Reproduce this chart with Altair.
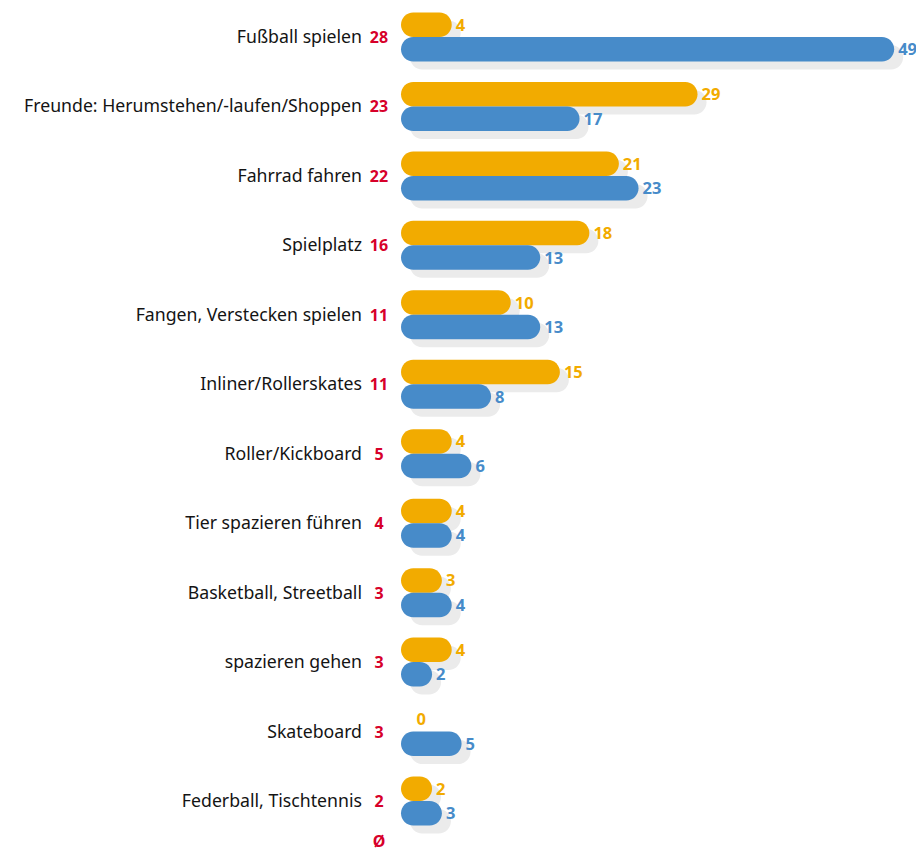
import altair as alt
import pandas as pd

categories = ["Fußball spielen", "Freunde: Herumstehen/-laufen/Shoppen", "Fahrrad fahren",
              "Spielplatz", "Fangen, Verstecken spielen", "Inliner/Rollerskates",
              "Roller/Kickboard", "Tier spazieren führen", "Basketball, Streetball",
              "spazieren gehen", "Skateboard", "Federball, Tischtennis"]
avg = [28, 23, 22, 16, 11, 11, 5, 4, 3, 3, 3, 2]
yellow = [4, 29, 21, 18, 10, 15, 4, 4, 3, 4, 0, 2]
blue = [49, 17, 23, 13, 13, 8, 6, 4, 4, 2, 5, 3]
avg_symbol = "Ø"

YELLOW = "#f2ab00"
BLUE = "#478bc9"
RED = "#d7002a"
SHADOW = "#ebebeb"
FONT = "Noto Sans"

# bars begin slightly left of zero (rounded cap)
BASE = -1.16
XMAX = 50.0
W = 503   # plot width in px

df = pd.DataFrame({"category": categories, "yellow": yellow, "blue": blue, "avg": avg})

xs = alt.Scale(domain=[BASE, XMAX], nice=False, zero=False)
ys = alt.Scale(type="point", padding=0.4176)

base = alt.Chart(df).encode(
    y=alt.Y("category:N", sort=categories, scale=ys, axis=None)
)

BH = 24.5
HALF = 12.25


def bars(field, color, yoff, shadow=False):
    kw = dict(height=BH, cornerRadius=HALF, yOffset=yoff)
    if shadow:
        kw.update(xOffset=9, x2Offset=9, yOffset=yoff + 8)
    return base.transform_filter(f"datum.{field} > 0").mark_bar(color=color, **kw).encode(
        x=alt.X(f"{field}:Q", scale=xs, axis=None),
        x2=alt.datum(BASE),
    )


def labels(field, color, yoff):
    return base.mark_text(align="left", baseline="middle", dx=4, dy=1, yOffset=yoff,
                          color=color, font=FONT, fontSize=16.5, fontWeight="bold").encode(
        x=alt.X(f"{field}:Q", scale=xs, axis=None),
        text=alt.Text(f"{field}:Q"),
    )


cat_text = base.mark_text(align="right", baseline="middle", font=FONT, fontSize=17.7,
                          dy=1, color="#141414").encode(x=alt.value(-39), text="category:N")
avg_text = base.mark_text(align="center", baseline="middle", font=FONT, fontSize=16,
                          dy=1, fontWeight="bold", color=RED).encode(x=alt.value(-22), text="avg:Q")
sym = alt.Chart(pd.DataFrame({"s": [avg_symbol]})).mark_text(
    align="center", baseline="middle", font=FONT, fontSize=16, fontWeight="bold", color=RED
).encode(x=alt.value(-22), y=alt.value(834), text="s:N")

chart = alt.layer(
    bars("yellow", SHADOW, -HALF, shadow=True),
    bars("blue", SHADOW, HALF, shadow=True),
    bars("yellow", YELLOW, -HALF),
    bars("blue", BLUE, HALF),
    labels("yellow", YELLOW, -HALF),
    labels("blue", BLUE, HALF),
    cat_text,
    avg_text,
    sym,
).properties(
    width=W, height=822,
    autosize=alt.AutoSizeParams(type="none"),
    padding={"left": 393, "top": 0, "right": 12, "bottom": 23},
).configure_view(stroke=None)

chart.save("out.html", embed_options={"renderer": "svg", "actions": False})
